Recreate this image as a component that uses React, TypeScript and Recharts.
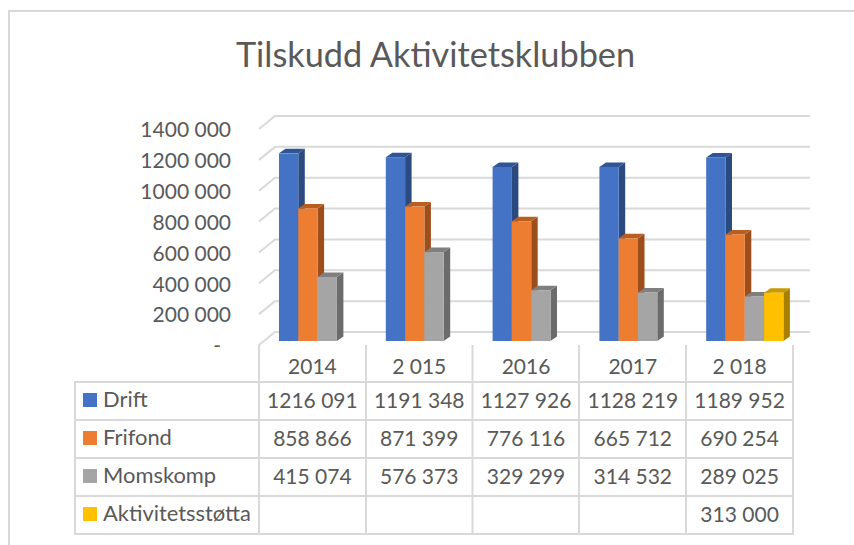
import React from 'react'
import { BarChart, Bar, XAxis, YAxis, CartesianGrid } from 'recharts'

const years = ['2014', '2 015', '2016', '2017', '2 018']
const drift = [1216091, 1191348, 1127926, 1128219, 1189952]
const frifond = [858866, 871399, 776116, 665712, 690254]
const momskomp = [415074, 576373, 329299, 314532, 289025]
const aktivitetsstotta = [null, null, null, null, 313000]
const yTicks = [0, 200000, 400000, 600000, 800000, 1000000, 1200000, 1400000]

const seriesList = [
  { name: 'Drift', values: drift, color: '#4472C4', side: '#2A4A80', top: '#2F5597' },
  { name: 'Frifond', values: frifond, color: '#ED7D31', side: '#9C4F1C', top: '#B85F20' },
  { name: 'Momskomp', values: momskomp, color: '#A5A5A5', side: '#6B6B6B', top: '#7F7F7F' },
  { name: 'Aktivitetsstøtta', values: aktivitetsstotta, color: '#FFC000', side: '#A97F00', top: '#C99A00' },
]

const data = years.map((year, i) => {
  const row: Record<string, string | number | null> = { year }
  seriesList.forEach(s => {
    row[s.name] = s.values[i]
  })
  return row
})

const FONT = 'Lato, sans-serif'
const TEXT = '#595959'
const LINE = '#D9D9D9'

// table row lines, chart area ends at the last column
const rowLines = [382, 420, 458, 496, 534]
const colLines = [259, 366, 472.5, 579, 686, 793]

// "1216 091" style, same as the source sheet
const fmt = (v: number) => {
  const s = String(v)
  return s.slice(0, -3) + ' ' + s.slice(-3)
}

const Bar3D = (props: any) => {
  const { x, y, width, height, fill, side, top } = props
  if (!height) return null
  const fx = x + 5
  const by = y - 4
  const dx = 6.5
  const dy = 4.5
  return (
    <g>
      <polygon
        points={`${fx + width},${by} ${fx + width + dx},${by - dy} ${fx + width + dx},${by + height - dy} ${fx + width},${by + height}`}
        fill={side}
      />
      <polygon
        points={`${fx},${by} ${fx + dx},${by - dy} ${fx + width + dx},${by - dy} ${fx + width},${by}`}
        fill={top}
      />
      <rect x={fx} y={by} width={width} height={height} fill={fill} />
    </g>
  )
}

const GridLine = (props: any) => {
  const { x1, x2, y1 } = props
  return (
    <polyline
      points={`${x1},${y1} ${x1 + 16},${y1 - 13} ${x2 + 17},${y1 - 13}`}
      fill="none"
      stroke={LINE}
      strokeWidth={2}
    />
  )
}

const YTick = (props: any) => {
  const { y, payload } = props
  // the zero dash sits further in, accounting style
  const isZero = payload.value === 0
  return (
    <text x={isZero ? 221 : 231} y={y + 3} textAnchor="end" dominantBaseline="middle" fontFamily={FONT} fontSize={21} fill={TEXT}>
      {isZero ? '-' : fmt(payload.value)}
    </text>
  )
}

// year label plus the data table column under it
const ColumnTick = (props: any) => {
  const { x, index, payload } = props
  return (
    <g fontFamily={FONT} fontSize={21} fill={TEXT} textAnchor="middle">
      <text x={x} y={369} dominantBaseline="middle">{payload.value}</text>
      {seriesList.map((s, r) =>
        s.values[index] == null ? null : (
          <text key={s.name} x={x} y={403 + r * 38} dominantBaseline="middle">
            {fmt(s.values[index] as number)}
          </text>
        )
      )}
    </g>
  )
}

export default function App() {
  return (
    <div style={{ position: 'absolute', left: 0, top: 0, width: 854, height: 545, background: '#fff', overflow: 'hidden' }}>
      <svg width={854} height={545} style={{ position: 'absolute', left: 0, top: 0 }}>
        <polyline points="9,545 9,11 854,11" fill="none" stroke={LINE} strokeWidth={2} />
        <text x={435.5} y={58} textAnchor="middle" dominantBaseline="middle" fontFamily={FONT} fontSize={34.3} fill={TEXT}>
          Tilskudd Aktivitetsklubben
        </text>
        {rowLines.map(y => (
          <line key={y} x1={75} x2={794} y1={y} y2={y} stroke={LINE} strokeWidth={2} />
        ))}
        <line x1={75} x2={75} y1={381} y2={535} stroke={LINE} strokeWidth={2} />
        {colLines.map(x => (
          <line key={x} x1={x} x2={x} y1={345} y2={535} stroke={LINE} strokeWidth={2} />
        ))}
        {seriesList.map((s, r) => (
          <g key={s.name}>
            <rect x={83} y={393 + r * 38} width={14} height={14} fill={s.color} />
            <text x={103} y={401 + r * 38} dominantBaseline="middle" fontFamily={FONT} fontSize={21.9} fill={TEXT}>
              {s.name}
            </text>
          </g>
        ))}
      </svg>
      <div style={{ position: 'absolute', left: 0, top: 0 }}>
        <BarChart
          width={854}
          height={545}
          data={data}
          margin={{ top: 129, right: 61, bottom: 0, left: 0 }}
          barSize={19.3}
          barGap={0}
        >
          <CartesianGrid vertical={false} horizontal={(p: any) => <GridLine key={p.key ?? p.y1} {...p} />} />
          <XAxis
            dataKey="year"
            height={200}
            axisLine={false}
            tickLine={false}
            interval={0}
            tick={(p: any) => <ColumnTick {...p} />}
          />
          <YAxis
            width={259}
            domain={[0, 1400000]}
            ticks={yTicks}
            interval={0}
            axisLine={false}
            tickLine={false}
            tick={(p: any) => <YTick {...p} />}
          />
          {seriesList.map(s => (
            <Bar
              key={s.name}
              dataKey={s.name}
              fill={s.color}
              isAnimationActive={false}
              shape={(p: any) => <Bar3D {...p} fill={s.color} side={s.side} top={s.top} />}
            />
          ))}
        </BarChart>
      </div>
    </div>
  )
}
